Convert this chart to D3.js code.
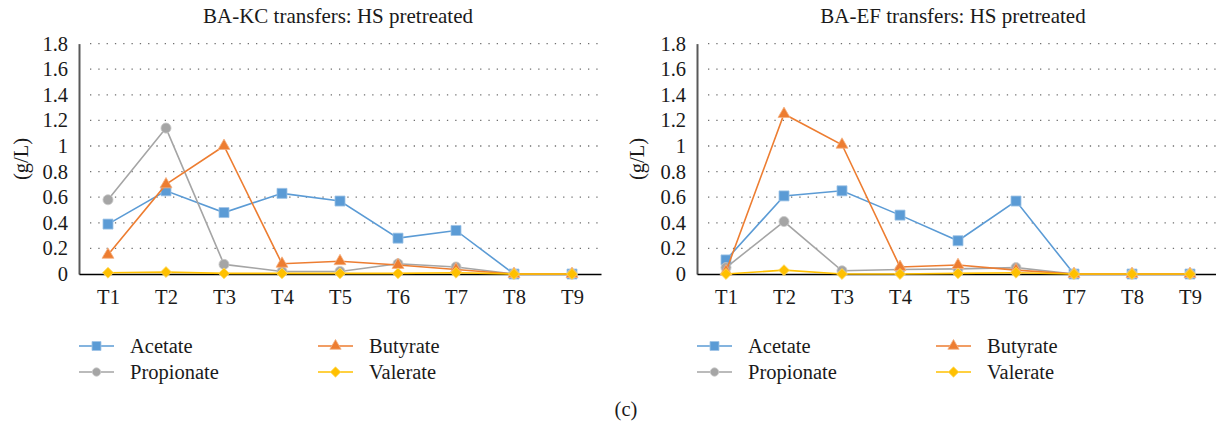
<!DOCTYPE html>
<html lang="en">
<head>
  <meta charset="utf-8">
  <title>BA transfers: HS pretreated</title>
  <script src="https://cdn.jsdelivr.net/npm/d3@7"></script>
  <style>
    body { margin: 0; background: #fff; }
    text { font-family: "Liberation Serif", "DejaVu Serif", serif; fill: #1a1a1a; }
  </style>
</head>
<body>
  <svg class="chart" width="1216" height="425"></svg>
  <script>
    var categories = ["T1", "T2", "T3", "T4", "T5", "T6", "T7", "T8", "T9"];
    var yTicks = [0, 0.2, 0.4, 0.6, 0.8, 1, 1.2, 1.4, 1.6, 1.8];
    var seriesNames = ["Acetate", "Propionate", "Butyrate", "Valerate"];

    // BA-KC panel
    var kcAcetate    = [0.39, 0.65, 0.48, 0.63, 0.57, 0.28, 0.34, 0, 0];
    var kcPropionate = [0.58, 1.14, 0.075, 0.02, 0.02, 0.08, 0.055, 0, 0];
    var kcButyrate   = [0.15, 0.70, 1.00, 0.08, 0.10, 0.07, 0.035, 0, 0];
    var kcValerate   = [0.01, 0.015, 0.005, 0.005, 0.005, 0.005, 0.01, 0, 0];

    // BA-EF panel
    var efAcetate    = [0.11, 0.61, 0.65, 0.46, 0.26, 0.57, 0, 0, 0];
    var efPropionate = [0.05, 0.41, 0.025, 0.035, 0.04, 0.05, 0, 0, 0];
    var efButyrate   = [0.02, 1.25, 1.01, 0.055, 0.07, 0.03, 0, 0, 0];
    var efValerate   = [0, 0.03, 0, 0, 0.005, 0.01, 0, 0, 0];

    var colors = { Acetate: "#5b9bd5", Propionate: "#a5a5a5", Butyrate: "#ed7d31", Valerate: "#ffc000" };
    var edges  = { Acetate: "#9dc3e6", Propionate: "#c9c9c9", Butyrate: "#f4b183", Valerate: "#ffd966" };
    var sizes  = { Acetate: 100, Propionate: 80, Butyrate: 62, Valerate: 60 };

    var diamond = {
      draw: function(ctx, size) {
        var r = Math.sqrt(size / 2);
        ctx.moveTo(0, -r); ctx.lineTo(r, 0); ctx.lineTo(0, r); ctx.lineTo(-r, 0); ctx.closePath();
      }
    };
    var types = { Acetate: d3.symbolSquare, Propionate: d3.symbolCircle, Butyrate: d3.symbolTriangle, Valerate: diamond };
    function marker(name, size) { return d3.symbol().type(types[name]).size(size)(); }

    var panels = [
      { title: "BA-KC transfers: HS pretreated", x0: 79, x1: 601, titleX: 338, labelX: 28,
        data: { Acetate: kcAcetate, Propionate: kcPropionate, Butyrate: kcButyrate, Valerate: kcValerate },
        legend: { a: 79, b: 318 } },
      { title: "BA-EF transfers: HS pretreated", x0: 697, x1: 1219, titleX: 953, labelX: 644,
        data: { Acetate: efAcetate, Propionate: efPropionate, Butyrate: efButyrate, Valerate: efValerate },
        legend: { a: 697, b: 936 } }
    ];

    var font = "'Liberation Serif', 'DejaVu Serif', serif";
    var svg = d3.select("svg.chart");
    var y = d3.scaleLinear().domain([0, 1.8]).range([274, 43.6]);

    panels.forEach(function(p) {
      var g = svg.append("g");
      var x = d3.scalePoint().domain(categories).range([p.x0, p.x1]).padding(0.5);

      // dotted gridlines
      g.selectAll("line.grid")
        .data(yTicks.slice(1))
        .enter().append("line")
        .attr("x1", p.x0 + 11).attr("x2", p.x1)
        .attr("y1", function(d) { return y(d); }).attr("y2", function(d) { return y(d); })
        .attr("stroke", "#6f6f6f").attr("stroke-width", 1.3)
        .attr("stroke-dasharray", "1.3,7");

      // y axis
      var ya = g.append("g")
        .attr("transform", "translate(" + p.x0 + ",0)")
        .call(d3.axisLeft(y).tickValues(yTicks).tickSize(0).tickPadding(11).tickFormat(function(d) { return String(d); }));
      ya.select(".domain").attr("stroke", "#595959").attr("stroke-width", 2);
      ya.selectAll("text").style("font-size", "20.5px").style("font-family", font).attr("fill", "#1a1a1a");

      // x axis
      var xa = g.append("g")
        .attr("transform", "translate(0," + y(0) + ")")
        .call(d3.axisBottom(x).tickSize(0).tickPadding(15));
      xa.select(".domain").attr("stroke", "#000").attr("stroke-width", 1.6);
      xa.selectAll("text").style("font-size", "20.5px").style("font-family", font).attr("fill", "#1a1a1a");

      // title and axis label
      g.append("text").attr("x", p.titleX).attr("y", 23)
        .attr("text-anchor", "middle").style("font-size", "21px").style("font-family", font).text(p.title);
      g.append("text")
        .attr("transform", "translate(" + p.labelX + ",159) rotate(-90)")
        .attr("text-anchor", "middle").style("font-size", "20.5px").style("font-family", font).text("(g/L)");

      var line = d3.line()
        .x(function(d, i) { return x(categories[i]); })
        .y(function(d) { return y(d); });

      seriesNames.forEach(function(name) {
        var vals = p.data[name];
        g.append("path")
          .datum(vals)
          .attr("d", line)
          .attr("fill", "none")
          .attr("stroke", colors[name])
          .attr("stroke-width", 1.6);
        g.selectAll("path.m-" + name)
          .data(vals)
          .enter().append("path")
          .attr("class", "m-" + name)
          .attr("transform", function(d, i) { return "translate(" + x(categories[i]) + "," + y(d) + ")"; })
          .attr("d", marker(name, sizes[name]))
          .attr("fill", colors[name])
          .attr("stroke", edges[name])
          .attr("stroke-width", 0.8);
      });

      // legend
      var legendPos = [
        { name: "Acetate", x: p.legend.a, y: 346 },
        { name: "Propionate", x: p.legend.a, y: 372 },
        { name: "Butyrate", x: p.legend.b, y: 346 },
        { name: "Valerate", x: p.legend.b, y: 372 }
      ];
      legendPos.forEach(function(l) {
        var lg = g.append("g").attr("transform", "translate(" + l.x + "," + l.y + ")");
        lg.append("line").attr("x1", 0).attr("x2", 35).attr("stroke", colors[l.name]).attr("stroke-width", 1.6);
        lg.append("path").attr("transform", "translate(17.5,0)")
          .attr("d", marker(l.name, l.name === "Acetate" ? 80 : 55))
          .attr("fill", colors[l.name]).attr("stroke", edges[l.name]).attr("stroke-width", 0.8);
        lg.append("text").attr("x", 51).attr("y", 7)
          .style("font-size", "20.5px").style("font-family", font).text(l.name);
      });
    });

    svg.append("text").attr("x", 626).attr("y", 416)
      .attr("text-anchor", "middle").style("font-size", "20.5px").style("font-family", font).text("(c)");
  </script>
</body>
</html>
